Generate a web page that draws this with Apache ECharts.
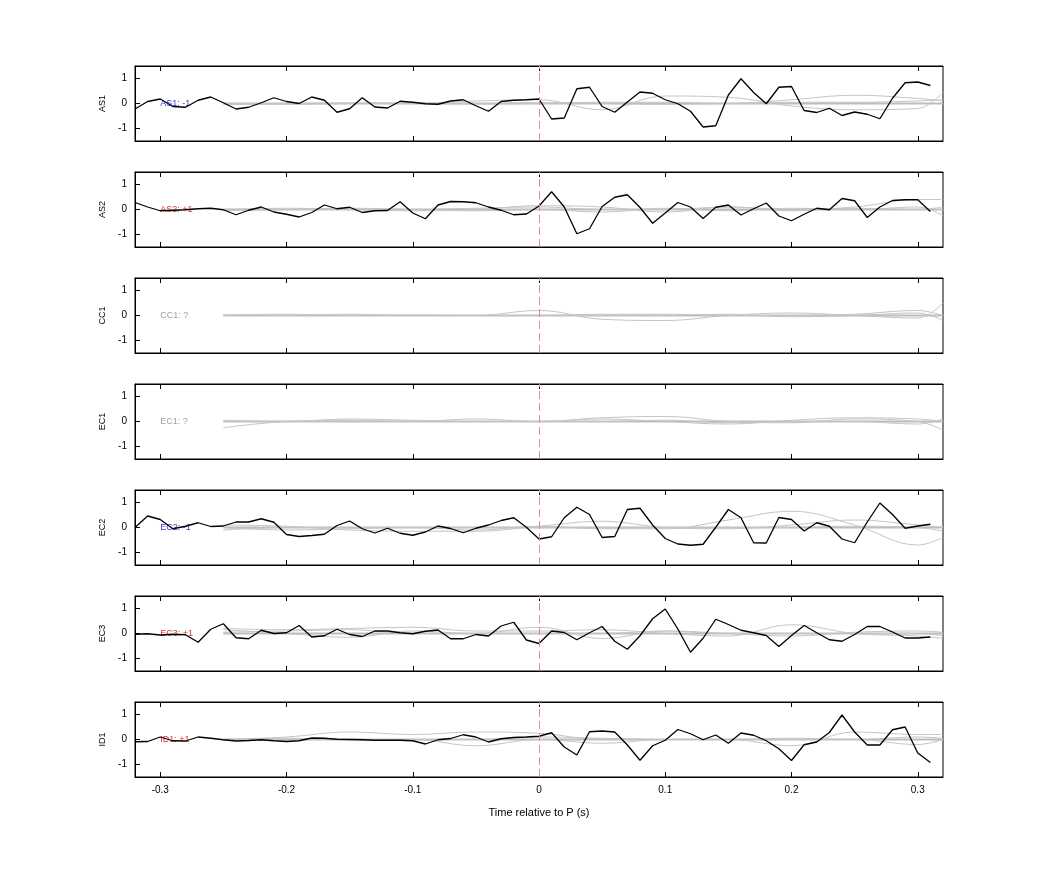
<!DOCTYPE html>
<html>
<head>
<meta charset="utf-8">
<script src="https://cdn.jsdelivr.net/npm/echarts@6/dist/echarts.min.js"></script>
<style>html,body{margin:0;padding:0;background:#fff}#main{width:1042px;height:875px}</style>
</head>
<body>
<div id="main"></div>
<script>
// 通道名称和标签
var stations = ['AS1', 'AS2', 'CC1', 'EC1', 'EC2', 'EC3', 'ID1'];
var tags = ['AS1: -1', 'AS2: +1', 'CC1: ?', 'EC1: ?', 'EC2: -1', 'EC3: +1', 'ID1: +1'];
var tagColors = ['#0000cc', '#cc0000', '#888888', '#888888', '#0000cc', '#cc0000', '#cc0000'];
var xTicks = [-0.3, -0.2, -0.1, 0, 0.1, 0.2, 0.3];

// 黑线: -0.32 .. 0.31 每 0.01 s
var black = {
  AS1: [-0.22,0.08,0.18,-0.12,-0.15,0.13,0.26,0.03,-0.22,-0.15,0.03,0.23,0.08,0,0.26,0.13,-0.35,-0.21,0.23,-0.14,-0.18,0.09,0.05,-0.01,-0.03,0.1,0.15,-0.09,-0.31,0.08,0.13,0.15,0.18,
        -0.62,-0.58,0.59,0.65,-0.12,-0.35,0.06,0.46,0.41,0.15,-0.01,-0.31,-0.94,-0.89,0.34,0.99,0.44,-0.01,0.65,0.68,-0.28,-0.36,-0.19,-0.48,-0.34,-0.43,-0.61,0.21,0.83,0.86,0.72],
  AS2: [0.28,0.1,-0.05,-0.03,-0.01,0.03,0.05,-0.01,-0.21,-0.03,0.1,-0.1,-0.19,-0.3,-0.12,0.18,0.03,0.09,-0.12,-0.05,-0.04,0.31,-0.14,-0.37,0.18,0.32,0.31,0.27,0.1,-0.03,-0.21,-0.18,0.14,
        0.71,0.1,-0.97,-0.77,0.12,0.49,0.59,0.08,-0.55,-0.14,0.28,0.1,-0.36,0.09,0.18,-0.22,0.03,0.26,-0.26,-0.45,-0.19,0.05,-0.01,0.44,0.35,-0.32,0.1,0.36,0.39,0.39,-0.08],
  EC2: [0,0.46,0.32,-0.05,0.05,0.19,0.04,0.06,0.22,0.22,0.35,0.21,-0.28,-0.36,-0.32,-0.27,0.08,0.26,-0.05,-0.22,-0.03,-0.23,-0.31,-0.18,0.06,-0.04,-0.21,-0.03,0.1,0.28,0.39,0.01,-0.46,
        -0.37,0.39,0.81,0.52,-0.4,-0.36,0.72,0.77,0.1,-0.44,-0.66,-0.71,-0.67,0.01,0.72,0.39,-0.61,-0.62,0.4,0.32,-0.14,0.19,0.05,-0.46,-0.61,0.22,0.98,0.52,-0.03,0.06,0.13],
  EC3: [-0.03,-0.01,-0.06,-0.03,-0.05,-0.35,0.17,0.39,-0.17,-0.21,0.13,0,0.03,0.32,-0.14,-0.09,0.17,-0.04,-0.12,0.1,0.1,0.03,-0.01,0.09,0.14,-0.21,-0.21,-0.04,-0.1,0.3,0.45,-0.26,-0.4,
        0.1,0.04,-0.25,0.03,0.28,-0.31,-0.63,-0.09,0.59,0.98,0.18,-0.75,-0.19,0.57,0.36,0.13,0.03,-0.08,-0.52,-0.08,0.32,0.03,-0.25,-0.31,-0.04,0.28,0.28,0.06,-0.18,-0.18,-0.14],
  ID1: [-0.09,-0.08,0.1,-0.05,-0.06,0.1,0.05,-0.01,-0.06,-0.04,-0.01,-0.05,-0.08,-0.05,0.06,0.05,0.01,0,-0.01,-0.03,-0.03,-0.03,-0.05,-0.18,-0.01,0.04,0.19,0.1,-0.1,0.03,0.08,0.1,0.13,
        0.27,-0.3,-0.62,0.31,0.34,0.3,-0.22,-0.83,-0.25,-0.03,0.4,0.23,-0.01,0.18,-0.15,0.26,0.17,-0.05,-0.37,-0.84,-0.21,-0.1,0.28,0.98,0.3,-0.22,-0.22,0.39,0.5,-0.54,-0.92]
};

// 灰线节点
var greyT = [-0.25,-0.2,-0.15,-0.1,-0.05,0,0.05,0.1,0.15,0.2,0.25,0.3,0.32];
var grey = {
  AS1: [[0,0,0,0,0.1,0.15,-0.25,0.3,0.25,-0.1,-0.25,-0.2,0.45],
        [-0.05,0,0.02,0,-0.02,0,0.05,0.05,0,0.15,0.33,0.2,0.1],
        [0,-0.03,0,0.02,0,0.03,0,-0.03,0,0.05,0.05,0.1,0.15]],
  AS2: [[0,0.05,0,-0.05,0,0.15,0.1,-0.1,0.1,0,0.1,0.4,0.4],
        [-0.05,0,0.05,0,-0.05,0,-0.1,0.05,-0.05,0.05,0,0.1,-0.25],
        [0,0,0,0,0.05,0.1,0,0,0.1,-0.05,0.05,0,0.1]],
  CC1: [[0,0,0.05,0,0,0.2,-0.15,-0.2,0,0.1,0,-0.1,0.5],
        [0.02,0.05,0,0.02,0,0,0.05,0.05,0,0,0.05,0.2,0],
        [0,0,0,0,0,0,0,0,0.05,-0.05,0,0.1,-0.2]],
  EC1: [[-0.25,0,0.05,0,0.1,0,0.15,0.2,0,-0.05,0.1,0,-0.35],
        [0,0,0.1,0.05,0,0,0.1,0,-0.1,0.05,0.15,0.1,0],
        [0.05,0,0,0,0,0,0,0.05,-0.05,0,0,-0.1,0.1]],
  EC2: [[0,-0.1,-0.05,0,-0.1,0.05,-0.05,-0.05,0.3,0.65,0.1,-0.7,-0.4],
        [0.1,0.05,-0.1,-0.15,-0.15,0.05,0.25,0,-0.05,0.1,0.3,0.1,0],
        [-0.1,0,0,0,0,0,0,0,0,0,0.05,0,-0.15]],
  EC3: [[0.2,0.15,0.2,0.25,0.1,0.1,0.15,0,-0.1,0.35,0,-0.1,-0.2],
        [0.15,0,-0.15,0.1,0,0.25,-0.2,0.1,0,-0.1,0.05,0.1,0.05],
        [0.05,0.1,0.15,0,0,0,0,0.1,0,0,0,0,-0.1]],
  ID1: [[0,0.1,0.3,0.2,0.3,0.25,0,0,0,-0.25,0.3,0.2,0.2],
        [0,0,0,0,-0.25,0,-0.15,0,0,0,0,-0.2,0],
        [0,0.05,0,0,0,0.1,0.05,0,0,0.05,0,0.1,0.05]]
};
// 零线附近的平直灰线
var flatT = [-0.25, 0.32];
var flat = [0, 0];

var chart = echarts.init(document.getElementById('main'));
var font = 'Liberation Sans, Arial, sans-serif';
var grids = [], xAxes = [], yAxes = [], series = [];

stations.forEach(function (st, i) {
  grids.push({ left: 135, width: 808, top: 66 + 106 * i, height: 75, show: true, borderColor: '#000', borderWidth: 1 });
  var last = i === stations.length - 1;
  // 下方 x 轴
  xAxes.push({
    type: 'value', gridIndex: i, min: -0.32, max: 0.32,
    name: last ? 'Time relative to P (s)' : '', nameLocation: 'middle', nameGap: 30,
    nameTextStyle: { fontFamily: font, fontSize: 11, color: '#000' },
    axisLine: { onZero: false, lineStyle: { color: '#000' } },
    axisTick: { inside: true, length: 5, customValues: xTicks, lineStyle: { color: '#000' } },
    axisLabel: { show: last, customValues: xTicks, color: '#000', fontFamily: font, fontSize: 10, margin: 8 },
    splitLine: { show: false }
  });
  // 上方 x 轴（只画刻度）
  xAxes.push({
    type: 'value', gridIndex: i, position: 'top', min: -0.32, max: 0.32,
    axisLine: { onZero: false, lineStyle: { color: '#000' } },
    axisTick: { inside: true, length: 5, customValues: xTicks, lineStyle: { color: '#000' } },
    axisLabel: { show: false }, splitLine: { show: false }
  });
  yAxes.push({
    type: 'value', gridIndex: i, min: -1.5, max: 1.5,
    name: st, nameLocation: 'middle', nameGap: 28, nameRotate: 90,
    nameTextStyle: { fontFamily: font, fontSize: 9, color: '#000' },
    axisLine: { show: true, onZero: false, lineStyle: { color: '#000' } },
    axisTick: { inside: true, length: 5, customValues: [-1, 0, 1], lineStyle: { color: '#000' } },
    axisLabel: { customValues: [-1, 0, 1], color: '#000', fontFamily: font, fontSize: 10, margin: 8 },
    splitLine: { show: false }
  });

  series.push({
    type: 'line', xAxisIndex: 2 * i, yAxisIndex: i, symbol: 'none', silent: true,
    lineStyle: { color: '#bdbdbd', width: 2 },
    data: flatT.map(function (t, k) { return [t, flat[k]]; })
  });
  grey[st].forEach(function (g) {
    series.push({
      type: 'line', xAxisIndex: 2 * i, yAxisIndex: i, smooth: 0.4, symbol: 'none', silent: true,
      lineStyle: { color: '#c4c4c4', width: 1 },
      data: greyT.map(function (t, k) { return [t, g[k]]; })
    });
  });

  if (black[st]) {
    series.push({
      type: 'line', xAxisIndex: 2 * i, yAxisIndex: i, symbol: 'none', silent: true,
      lineStyle: { color: '#000', width: 1.3 },
      data: black[st].map(function (v, k) { return [Math.round((-0.32 + k * 0.01) * 100) / 100, v]; })
    });
  }

  // 零时刻虚线 + 标签
  series.push({
    type: 'scatter', xAxisIndex: 2 * i, yAxisIndex: i, symbolSize: 0, silent: true,
    data: [[-0.3, 0]],
    label: { show: true, position: 'right', distance: 0, formatter: tags[i], color: tagColors[i], fontFamily: font, fontSize: 9 },
    markLine: {
      symbol: 'none', silent: true, label: { show: false },
      lineStyle: { color: '#e08a8a', type: [8, 4], width: 1 },
      data: [{ xAxis: 0 }]
    }
  });
});

chart.setOption({
  animation: false,
  grid: grids,
  xAxis: xAxes,
  yAxis: yAxes,
  series: series
});
</script>
</body>
</html>
